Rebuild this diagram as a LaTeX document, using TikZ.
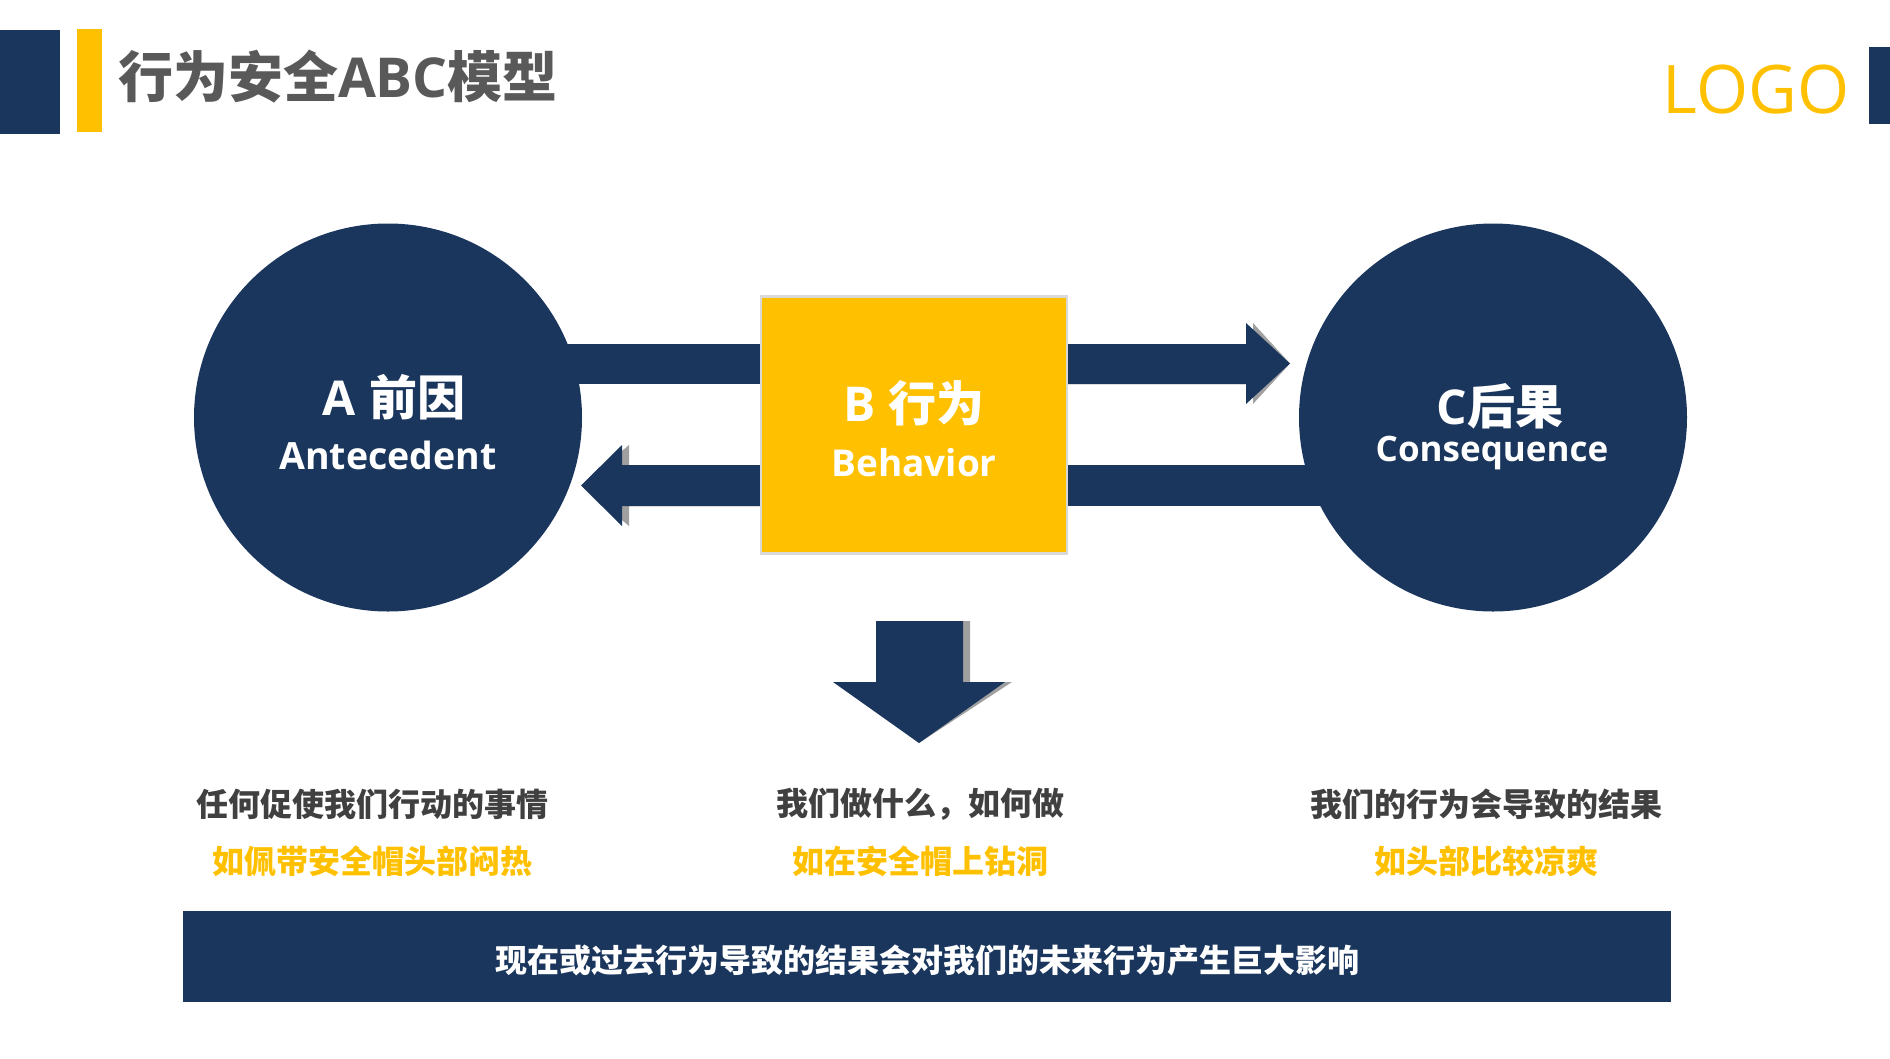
\documentclass[tikz,border=0pt]{standalone}
\usepackage{fontspec}
\setmainfont{Open Sans}
\newfontfamily\cjk{Noto Sans CJK SC}
\newfontfamily\lat{Open Sans}
\usetikzlibrary{calc}
\definecolor{navy}{HTML}{1A365D}
\definecolor{gold}{HTML}{FFC000}
\definecolor{titlegray}{HTML}{595959}
\definecolor{darktext}{HTML}{404040}
\definecolor{shadowgray}{HTML}{A0A0A0}
\definecolor{boxgray}{HTML}{D9D9D9}
\tikzset{
  every node/.style={inner sep=0pt, outer sep=0pt},
  zhtext/.style={font=\cjk\bfseries\fontsize{32}{38}\selectfont},
  bigzh/.style={font=\bfseries\fontsize{48}{56}\selectfont, text=white},
  latlabel/.style={anchor=base, text=white},
  ball/.style={circle, fill=navy, minimum size=388pt},
  shade/.style={fill=shadowgray, shift={(7,0)}},
  body/.style={fill=navy}
}
\begin{document}
\begin{tikzpicture}[x=1pt,y=-1pt]
\useasboundingbox (0,0) rectangle (1890,1058);
% header
\fill[navy] (0,30) rectangle (60,134);
\fill[gold] (77,29) rectangle (102,132);
\node[anchor=west, text=titlegray, font=\bfseries\fontsize{55}{63}\selectfont] (title) at (118,77) {{\cjk 行为安全}{\lat ABC}{\cjk 模型}};
\node[anchor=base, text=gold, font=\lat\fontsize{67}{80}\selectfont] (logo) at (1756,113) {LOGO};
\fill[navy] (1869,47) rectangle (1890,124);

% nodes
\node[ball] (A) at (388,417.5) {};
\node[ball] (C) at (1493,417.5) {};
\coordinate (tipR) at (1290,363.5);
\coordinate (tipL) at (581,485.5);
\coordinate (tipD) at (919,743);
\coordinate (Bw) at (761,425);
\coordinate (Be) at (1067,425);

% bars from circles
\fill[body] (A.center |- 0,344) rectangle (Bw |- 0,384);
\fill[body] (Be |- 0,465) rectangle (C.center |- 0,506);

% shadows
\fill[shade] (Be |- 0,344) -- (1246,344) -- (1246,323) -- (tipR) -- (1246,404) -- (1246,384) -- (Be |- 0,384) -- cycle;
\fill[shade] (Bw |- 0,465) -- (622,465) -- (622,445) -- (tipL) -- (622,526) -- (622,506) -- (Bw |- 0,506) -- cycle;
\fill[shade] (876,621) -- (963,621) -- (963,682) -- (1005,682) -- (tipD) -- (833,682) -- (876,682) -- cycle;
% arrows
\fill[body] (Be |- 0,344) -- (1246,344) -- (1246,323) -- (tipR) -- (1246,404) -- (1246,384) -- (Be |- 0,384) -- cycle;
\fill[body] (Bw |- 0,465) -- (622,465) -- (622,445) -- (tipL) -- (622,526) -- (622,506) -- (Bw |- 0,506) -- cycle;
\fill[body] (876,621) -- (963,621) -- (963,682) -- (1005,682) -- (tipD) -- (833,682) -- (876,682) -- cycle;

% box B
\node[rectangle, fill=gold, draw=boxgray, line width=2.5pt, minimum width=306pt, minimum height=257pt] (B) at (914,425) {};

% labels
\node[bigzh] (Al) at (394,397) {{\lat A}\hspace{13pt}{\cjk 前因}};
\node[latlabel, font=\lat\bfseries\fontsize{37.5}{44}\selectfont] (Ae) at (388,469) {Antecedent};
\node[bigzh] (Bl) at (914,403) {{\lat B}\hspace{13pt}{\cjk 行为}};
\node[latlabel, font=\lat\bfseries\fontsize{37}{44}\selectfont] (Be2) at (914,476) {Behavior};
\node[bigzh] (Cl) at (1500,406) {{\lat C}{\cjk 后果}};
\node[latlabel, font=\lat\bfseries\fontsize{35}{42}\selectfont] (Ce) at (1492,461) {Consequence};

% column texts
\node[zhtext, text=darktext] (a1) at (372,804) {任何促使我们行动的事情};
\node[zhtext, text=gold] (a2) at (372,861) {如佩带安全帽头部闷热};
\node[zhtext, text=darktext] (b1) at (920,804) {我们做什么，如何做};
\node[zhtext, text=gold] (b2) at (920,861) {如在安全帽上钻洞};
\node[zhtext, text=darktext] (c1) at (1486,804) {我们的行为会导致的结果};
\node[zhtext, text=gold] (c2) at (1486,861) {如头部比较凉爽};

% bottom bar
\node[fill=navy, minimum width=1488pt, minimum height=91pt] (bar) at (927,956.5) {};
\node[zhtext, text=white] (bartext) at (927,960) {现在或过去行为导致的结果会对我们的未来行为产生巨大影响};
\end{tikzpicture}
\end{document}
